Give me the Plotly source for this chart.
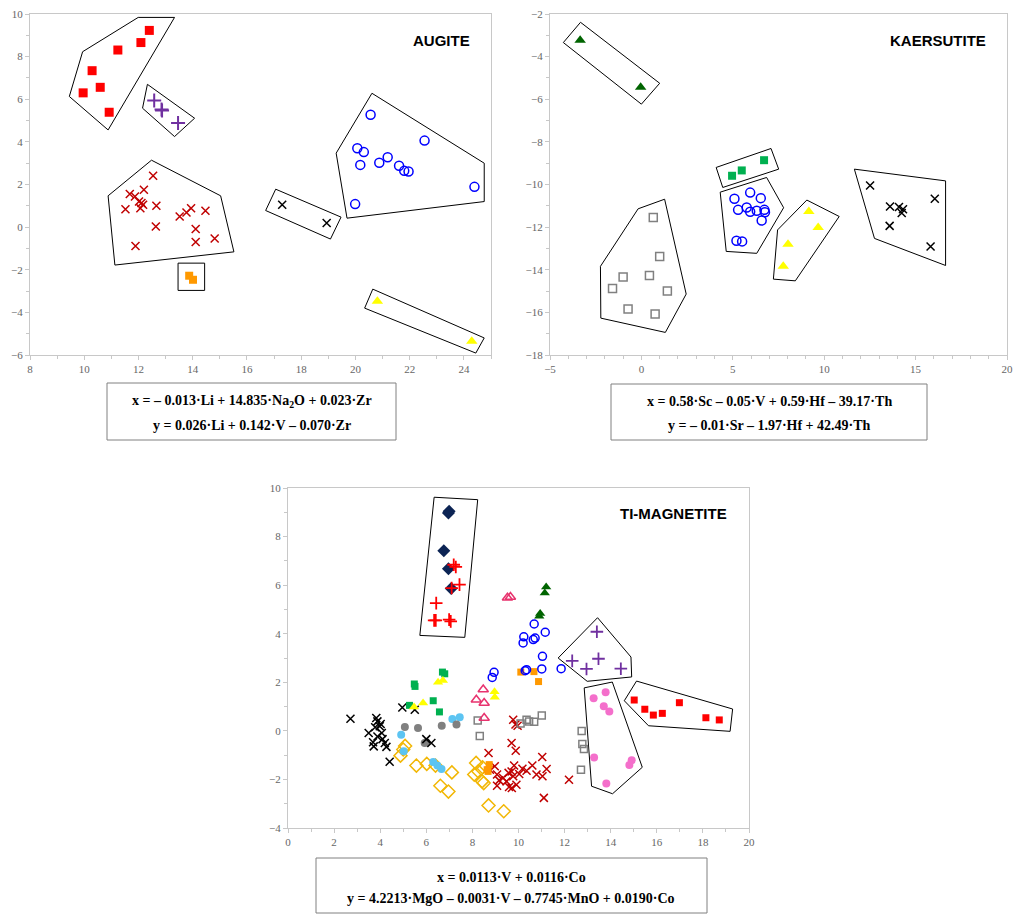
import plotly.graph_objects as go

W, H = 1013, 914

# ---------------- AUGITE data ----------------
aug_redsq_x = [9.96, 10.29, 10.59, 10.92, 11.24, 12.09, 12.40]
aug_redsq_y = [6.30, 7.34, 6.56, 5.39, 8.31, 8.66, 9.23]
aug_purple_x = [12.58, 12.87, 12.85, 13.46]
aug_purple_y = [5.94, 5.47, 5.52, 4.88]
aug_darkred_x = [12.54, 11.68, 11.87, 12.20, 12.02, 12.11, 12.17, 12.07, 11.52, 12.66,
                 12.64, 13.52, 13.77, 13.94, 14.47, 14.11, 14.11, 14.81, 11.89]
aug_darkred_y = [2.41, 1.55, 1.44, 1.75, 1.20, 1.13, 1.05, 0.89, 0.84, 1.00,
                 0.03, 0.50, 0.69, 0.89, 0.77, -0.09, -0.70, -0.53, -0.89]
aug_orange_x = [13.87, 14.01]
aug_orange_y = [-2.28, -2.47]
aug_black_x = [17.30, 18.94]
aug_black_y = [1.05, 0.19]
aug_blue_x = [20.56, 20.07, 20.31, 20.18, 20.88, 21.19, 21.61, 21.80, 21.96, 22.55, 19.99, 24.39]
aug_blue_y = [5.27, 3.70, 3.52, 2.92, 3.02, 3.28, 2.88, 2.64, 2.61, 4.06, 1.08, 1.89]
aug_yellow_x = [20.81, 24.29]
aug_yellow_y = [-3.48, -5.36]

aug_polys = [
    ([9.94, 11.99, 13.33, 10.88, 9.45], [8.23, 9.84, 9.84, 4.56, 6.13]),
    ([12.33, 14.07, 13.33, 12.15], [6.70, 5.11, 4.25, 5.58]),
    ([10.88, 12.48, 15.03, 15.52, 11.13], [1.47, 3.14, 1.47, -1.16, -1.78]),
    ([13.46, 14.44, 14.44, 13.46], [-1.69, -1.69, -2.97, -2.97]),
    ([17.06, 19.47, 19.08, 16.69], [1.78, 0.47, -0.56, 0.78]),
    ([20.61, 24.75, 24.75, 19.69, 19.29], [6.28, 3.00, 1.20, 0.42, 3.47]),
    ([20.64, 24.75, 24.44, 20.34], [-2.91, -5.20, -5.91, -3.80]),
]

# ---------------- KAERSUTITE data ----------------
kae_dgreen_x = [-3.35, -0.04]
kae_dgreen_y = [-3.23, -5.44]
kae_green_x = [4.96, 5.49, 6.71]
kae_green_y = [-9.59, -9.34, -8.86]
kae_blue_x = [5.09, 5.95, 6.53, 5.29, 5.76, 5.95, 6.31, 6.73, 6.76, 6.58, 5.20, 5.51]
kae_blue_y = [-10.67, -10.38, -10.64, -11.19, -11.08, -11.28, -11.23, -11.19, -11.30, -11.69, -12.64, -12.67]
kae_yellow_x = [9.16, 9.67, 8.02, 7.76]
kae_yellow_y = [-11.27, -12.02, -12.80, -13.84]
kae_black_x = [12.51, 13.60, 14.09, 14.31, 14.24, 13.58, 16.05, 15.82]
kae_black_y = [-10.05, -11.03, -11.06, -11.16, -11.34, -11.94, -10.67, -12.91]
kae_gray_x = [0.65, 1.00, -1.00, 0.44, -1.58, 1.42, -0.73, 0.75]
kae_gray_y = [-11.55, -13.38, -14.34, -14.27, -14.88, -15.00, -15.84, -16.08]

kae_polys = [
    ([-3.33, 1.00, 0.00, -4.27], [-2.39, -5.25, -6.23, -3.34]),
    ([4.09, 7.09, 7.51, 4.45], [-9.20, -8.31, -9.28, -10.14]),
    ([4.31, 6.85, 7.78, 6.31, 4.64], [-10.36, -9.67, -11.09, -13.23, -13.14]),
    ([9.05, 10.82, 8.42, 7.22, 7.45], [-10.73, -11.50, -14.52, -14.44, -12.13]),
    ([11.65, 16.64, 16.64, 12.75], [-9.28, -9.83, -13.80, -12.53]),
    ([-0.18, 1.27, 2.45, 1.31, -2.22, -2.24], [-11.14, -10.69, -15.14, -16.94, -16.27, -13.84]),
]

# ---------------- TI-MAGNETITE data ----------------
ti_navy_x = [6.99, 6.96, 6.76, 6.96, 7.08]
ti_navy_y = [9.04, 8.97, 7.42, 6.68, 5.86]
ti_redplus_x = [7.19, 7.28, 7.44, 7.10, 6.43, 6.34, 6.41, 6.99, 7.06]
ti_redplus_y = [6.84, 6.75, 6.02, 5.88, 5.26, 4.55, 4.55, 4.58, 4.51]
ti_dgreen_x = [11.20, 11.14, 10.94, 10.90]
ti_dgreen_y = [5.92, 5.68, 4.83, 4.72]
ti_pinktri_x = [9.52, 9.65, 8.47, 8.17, 8.51, 8.51]
ti_pinktri_y = [5.48, 5.51, 1.70, 1.28, 1.15, 0.53]
ti_blue_x = [10.68, 11.16, 10.23, 10.20, 10.64, 10.72, 11.04, 10.29, 10.35, 11.01, 11.85, 8.94, 8.86]
ti_blue_y = [4.40, 4.06, 3.87, 3.62, 3.76, 3.82, 3.07, 2.48, 2.52, 2.55, 2.56, 2.41, 2.20]
ti_orange_x = [10.10, 10.67, 10.87, 8.73, 8.64, 8.68]
ti_orange_y = [2.42, 2.44, 2.03, -1.39, -1.60, -1.67]
ti_purple_x = [13.40, 12.33, 12.95, 13.47, 14.44]
ti_purple_y = [4.08, 2.88, 2.55, 2.97, 2.56]
ti_pink_x = [13.26, 13.78, 13.70, 13.94, 13.28, 14.91, 14.81, 13.81]
ti_pink_y = [1.34, 1.59, 1.01, 0.80, -1.10, -1.21, -1.41, -2.17]
ti_redsq_x = [15.02, 15.48, 15.85, 16.24, 16.98, 18.13, 18.71]
ti_redsq_y = [1.27, 0.89, 0.65, 0.72, 1.16, 0.54, 0.45]
ti_gray_x = [8.23, 8.32, 10.09, 10.35, 10.46, 10.68, 11.01, 12.74, 12.77, 12.84, 12.71]
ti_gray_y = [0.43, -0.21, 0.30, 0.46, 0.39, 0.37, 0.63, -0.01, -0.54, -0.75, -1.60]
ti_darkred_x = [9.77, 9.87, 9.96, 9.70, 9.88, 8.70, 11.03, 8.97, 11.22, 9.07, 9.16, 9.07, 9.33,
                9.48, 9.57, 9.70, 9.81, 9.77, 9.59, 9.71, 9.91, 10.17, 10.35, 10.60, 10.78,
                11.04, 12.19, 11.10, 10.03, 8.76]
ti_darkred_y = [0.46, 0.26, 0.21, -0.50, -0.82, -0.91, -1.08, -1.46, -1.57, -1.80, -2.04, -2.26, -1.94,
                -2.08, -1.73, -1.67, -1.43, -1.87, -2.31, -2.35, -2.22, -1.56, -1.64, -1.43, -1.80,
                -1.87, -2.01, -2.76, -1.78, -1.60]
ti_black_x = [2.71, 3.83, 3.88, 4.02, 3.78, 3.50, 3.88, 4.07, 4.10, 3.69, 3.72, 4.20, 4.27, 4.41,
              4.96, 5.50, 6.00, 6.22, 3.98]
ti_black_y = [0.50, 0.53, 0.39, 0.28, 0.15, -0.09, -0.23, -0.09, -0.34, -0.47, -0.64, -0.50, -0.66, -1.27,
              0.96, 0.87, -0.34, -0.50, 0.19]
ti_graydot_x = [5.07, 5.64, 6.67, 7.31, 5.93, 6.00]
ti_graydot_y = [0.16, 0.12, 0.21, 0.26, -0.50, -0.47]
ti_lblue_x = [4.91, 7.13, 7.45, 5.02, 6.30, 6.66, 6.48]
ti_lblue_y = [-0.16, 0.49, 0.56, -0.84, -1.28, -1.57, -1.43]
ti_gold_x = [4.88, 5.08, 5.00, 5.57, 6.02, 6.40, 7.11, 6.61, 6.96, 8.16, 8.08, 8.26, 8.42, 8.49,
             8.70, 9.36, 8.44]
ti_gold_y = [-1.02, -0.62, -0.77, -1.43, -1.36, -1.43, -1.71, -2.26, -2.50, -1.32, -1.80, -1.67, -2.08, -2.15,
             -3.07, -3.31, -1.50]
ti_green_x = [6.70, 6.80, 5.48, 5.51, 6.30, 5.27, 6.57]
ti_green_y = [2.42, 2.35, 1.93, 1.83, 1.24, 1.05, 0.78]
ti_yellow_x = [6.51, 6.72, 5.86, 5.47, 8.96, 8.97]
ti_yellow_y = [2.00, 2.07, 1.15, 0.98, 1.61, 1.38]

ti_polys = [
    ([6.34, 8.23, 7.67, 5.72], [9.62, 9.52, 3.85, 3.93]),
    ([13.43, 14.88, 14.91, 12.98, 11.72], [4.66, 3.04, 2.22, 2.04, 3.00]),
    ([12.85, 14.07, 15.37, 14.08, 13.17], [1.77, 2.01, -1.50, -2.59, -2.28]),
    ([15.12, 19.29, 19.18, 15.64, 14.59], [2.05, 0.90, -0.02, 0.21, 1.24]),
]

titles = ["AUGITE", "KAERSUTITE", "TI-MAGNETITE"]
eq_lines = [
    ["x = – 0.013·Li + 14.835·Na<sub>2</sub>O + 0.023·Zr", "y = 0.026·Li + 0.142·V – 0.070·Zr"],
    ["x = 0.58·Sc – 0.05·V + 0.59·Hf – 39.17·Th", "y = – 0.01·Sr – 1.97·Hf + 42.49·Th"],
    ["x = 0.0113·V + 0.0116·Co", "y = 4.2213·MgO – 0.0031·V – 0.7745·MnO + 0.0190·Co"],
]

# ---------------- figure ----------------
fig = go.Figure()

RED = "#FF0000"
PURPLE = "#7030A0"
DARKRED = "#C00000"
ORANGE = "#FF9900"
BLUE = "#0000FF"
YELLOW = "#FFFF00"
DGREEN = "#006400"
GREEN = "#00B050"
GRAY = "#808080"
NAVY = "#0C2454"
PINKTRI = "#E8336E"
PINK = "#F46FCB"
LBLUE = "#5CC4F2"
GOLD = "#F2B705"


def pts(x, y, ax, symbol, color, size, lw=0):
    xa = "x" if ax == 1 else f"x{ax}"
    ya = "y" if ax == 1 else f"y{ax}"
    fig.add_trace(go.Scatter(
        x=x, y=y, xaxis=xa, yaxis=ya, mode="markers", showlegend=False,
        marker=dict(symbol=symbol, color=color, size=size,
                    line=dict(width=lw, color=color)),
    ))


def polys(plist, ax):
    xa = "x" if ax == 1 else f"x{ax}"
    ya = "y" if ax == 1 else f"y{ax}"
    for px, py in plist:
        fig.add_trace(go.Scatter(
            x=list(px) + [px[0]], y=list(py) + [py[0]], xaxis=xa, yaxis=ya,
            mode="lines", showlegend=False, hoverinfo="skip",
            line=dict(color="black", width=1),
        ))


# Augite
polys(aug_polys, 1)
pts(aug_redsq_x, aug_redsq_y, 1, "square", RED, 9)
pts(aug_purple_x, aug_purple_y, 1, "cross-thin", PURPLE, 10, 2)
pts(aug_darkred_x, aug_darkred_y, 1, "x-thin", DARKRED, 8, 1.5)
pts(aug_orange_x, aug_orange_y, 1, "square", ORANGE, 8)
pts(aug_black_x, aug_black_y, 1, "x-thin", "black", 8, 1.5)
pts(aug_blue_x, aug_blue_y, 1, "circle-open", BLUE, 9, 1.5)
pts(aug_yellow_x, aug_yellow_y, 1, "triangle-up", YELLOW, 10)

# Kaersutite
polys(kae_polys, 2)
pts(kae_dgreen_x, kae_dgreen_y, 2, "triangle-up", DGREEN, 10)
pts(kae_green_x, kae_green_y, 2, "square", GREEN, 8)
pts(kae_blue_x, kae_blue_y, 2, "circle-open", BLUE, 9, 1.5)
pts(kae_yellow_x, kae_yellow_y, 2, "triangle-up", YELLOW, 10)
pts(kae_black_x, kae_black_y, 2, "x-thin", "black", 8, 1.5)
pts(kae_gray_x, kae_gray_y, 2, "square-open", GRAY, 8, 1.5)

# Ti-magnetite
polys(ti_polys, 3)
pts(ti_gold_x, ti_gold_y, 3, "diamond-open", GOLD, 10, 1.5)
pts(ti_lblue_x, ti_lblue_y, 3, "circle", LBLUE, 8)
pts(ti_graydot_x, ti_graydot_y, 3, "circle", GRAY, 8)
pts(ti_black_x, ti_black_y, 3, "x-thin", "black", 8, 1.5)
pts(ti_darkred_x, ti_darkred_y, 3, "x-thin", DARKRED, 8, 1.5)
pts(ti_gray_x, ti_gray_y, 3, "square-open", GRAY, 7, 1.5)
pts(ti_green_x, ti_green_y, 3, "square", GREEN, 7)
pts(ti_yellow_x, ti_yellow_y, 3, "triangle-up", YELLOW, 9)
pts(ti_orange_x, ti_orange_y, 3, "square", ORANGE, 7)
pts(ti_blue_x, ti_blue_y, 3, "circle-open", BLUE, 8, 1.5)
pts(ti_pinktri_x, ti_pinktri_y, 3, "triangle-up-open", PINKTRI, 9, 1.5)
pts(ti_dgreen_x, ti_dgreen_y, 3, "triangle-up", DGREEN, 9)
pts(ti_navy_x, ti_navy_y, 3, "diamond", NAVY, 10)
pts(ti_redplus_x, ti_redplus_y, 3, "cross-thin", RED, 9, 1.8)
pts(ti_purple_x, ti_purple_y, 3, "cross-thin", PURPLE, 9, 1.8)
pts(ti_pink_x, ti_pink_y, 3, "circle", PINK, 8)
pts(ti_redsq_x, ti_redsq_y, 3, "square", RED, 7)


def px2x(p):
    return p / W


def px2y(p):
    return 1 - p / H


tickfont = dict(family="Liberation Serif", size=11, color="#666666")


def axis(rng, dtick, dom, anchor):
    return dict(
        range=rng, dtick=dtick, tick0=rng[0], domain=dom, anchor=anchor,
        showgrid=False, zeroline=False, showline=True, mirror=True,
        linecolor="#C8C8C8", linewidth=1, automargin=False,
        ticks="outside", ticklen=4, tickcolor="#C8C8C8", tickwidth=1,
        minor=dict(ticks="outside", ticklen=3, tickcolor="#C8C8C8", dtick=dtick / 2 if dtick != 5 else 1),
        tickfont=tickfont,
    )


fig.update_layout(
    width=W, height=H, margin=dict(l=0, r=0, t=0, b=0, autoexpand=False),
    paper_bgcolor="white", plot_bgcolor="white",
    xaxis=axis([8, 25], 2, [px2x(30), px2x(491)], "y"),
    yaxis=axis([-6, 10], 2, [px2y(355), px2y(14)], "x"),
    xaxis2=axis([-5, 20], 5, [px2x(550), px2x(1007)], "y2"),
    yaxis2=axis([-18, -2], 2, [px2y(355), px2y(14)], "x2"),
    xaxis3=axis([0, 20], 2, [px2x(288), px2x(749)], "y3"),
    yaxis3=axis([-4, 10], 2, [px2y(828), px2y(488)], "x3"),
)

# Titles
title_pos = [(472, 40), (988, 40), (729, 513)]
for t, (tx, ty) in zip(titles, title_pos):
    fig.add_annotation(text=f"<b>{t}</b>", x=px2x(tx), y=px2y(ty), xref="paper", yref="paper",
                       xanchor="right", yanchor="middle", showarrow=False,
                       font=dict(family="Liberation Sans", size=15, color="black"))

# Equation boxes
boxes = [(107, 383, 396, 440), (611, 384, 927, 440), (316, 858, 707, 913)]
line_ys = [(401, 425), (401, 425), (877, 898)]
for (x0, y0, x1, y1), lines, ly in zip(boxes, eq_lines, line_ys):
    fig.add_shape(type="rect", xref="paper", yref="paper",
                  x0=px2x(x0), x1=px2x(x1), y0=px2y(y1), y1=px2y(y0),
                  line=dict(color="#808080", width=1))
    cx = (x0 + x1) / 2
    for txt, yy in zip(lines, ly):
        fig.add_annotation(text=f"<b>{txt}</b>", x=px2x(cx), y=px2y(yy), xref="paper", yref="paper",
                           xanchor="center", yanchor="middle", showarrow=False,
                           font=dict(family="Liberation Serif", size=14, color="black"))

fig.write_html("out.html", config={"displayModeBar": False},
               post_script="document.body.style.margin='0px';document.body.style.overflow='hidden';")
